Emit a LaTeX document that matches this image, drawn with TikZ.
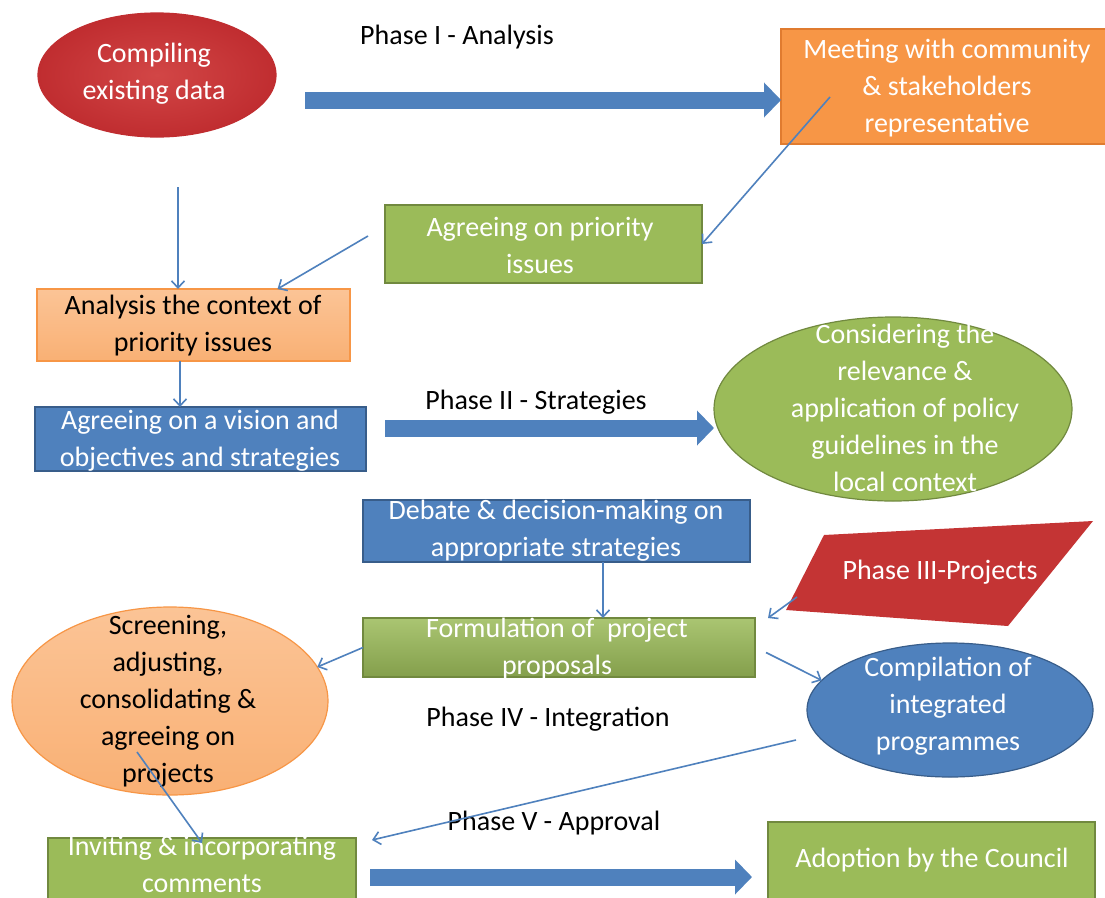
\documentclass[tikz,border=0pt]{standalone}
\usepackage{fontspec}
\setmainfont{Carlito}
\usetikzlibrary{shapes.geometric,arrows.meta,calc}
\definecolor{cblue}{RGB}{79,129,189}
\definecolor{cblueb}{RGB}{56,93,138}
\definecolor{cgreen}{RGB}{155,187,89}
\definecolor{cgreenb}{RGB}{113,137,63}
\definecolor{corange}{RGB}{247,150,70}
\definecolor{corangeb}{RGB}{224,123,47}
\definecolor{clorange}{RGB}{251,196,150}
\definecolor{clorange2}{RGB}{249,176,116}
\definecolor{cdred}{RGB}{192,45,48}
\definecolor{cdredin}{RGB}{210,70,70}
\definecolor{cred}{RGB}{196,52,52}
\begin{document}
\begin{tikzpicture}[x={(1pt,0pt)}, y={(0pt,-1pt)},
  every node/.style={inner sep=0pt, outer sep=0pt},
  shp/.style={draw, line width=1.2pt, inner sep=0pt},
  rbox/.style={shp, rectangle},
  ell/.style={shp, ellipse},
  txt/.style={align=center, font=\fontsize{28}{37}\selectfont},
  wtxt/.style={txt, text=white},
  btxt/.style={txt, text=black},
  thinarr/.style={draw=cblue, line width=1.6pt, -{Straight Barb[length=7pt,width=13pt]}},
  bigarr/.style={draw=cblue, line width=17pt, -{Triangle[length=17pt,width=34pt]}},
]
\useasboundingbox (0,0) rectangle (1105,897);
\fill[white] (0,0) rectangle (1105,897);

% Phase I
\node[ell, draw=cdred, inner color=cdredin, outer color=cdred, minimum width=238, minimum height=124] (comp) at (157,75) {};
\node[wtxt] (tcomp) at (154,74) {Compiling\\existing data};
\node[btxt] (ph1) at (457,37) {Phase I - Analysis};
\node[rbox, draw=corangeb, fill=corange, minimum width=334, minimum height=115] (meet) at (948,86.5) {};
\node[wtxt] (tmeet) at (947,88) {Meeting with community\\\& stakeholders\\representative};
\node[rbox, draw=cgreenb, fill=cgreen, minimum width=317, minimum height=78] (prio) at (543.5,244) {};
\node[wtxt] (tprio) at (540,245.5) {Agreeing on priority\\issues};
\node[rbox, draw=corange, top color=clorange, bottom color=clorange2, minimum width=313, minimum height=72] (an) at (193.5,325) {};
\node[btxt] (tan) at (193,325.5) {Analysis the context of\\priority issues};

% Phase II
\node[rbox, draw=cblueb, fill=cblue, minimum width=331, minimum height=64] (vis) at (200.5,439) {};
\node[wtxt] (tvis) at (200,440.5) {Agreeing on a vision and\\objectives and strategies};
\node[btxt] (ph2) at (536,402) {Phase II - Strategies};
\node[ell, draw=cgreenb, fill=cgreen, minimum width=358, minimum height=184] (cons) at (893,409) {};
\node[wtxt] (tcons) at (905,408) {Considering the\\relevance \&\\application of policy\\guidelines in the\\local context};
\node[rbox, draw=cblueb, fill=cblue, minimum width=387, minimum height=62] (deb) at (556.5,531) {};
\node[wtxt] (tdeb) at (556,531) {Debate \& decision-making on\\appropriate strategies};

% Phase III
\fill[cred] (824,535) coordinate (p1) -- (1093,521) coordinate (p2) -- (1008,626) coordinate (p3) -- (786,610) coordinate (p4) -- cycle;
\node[wtxt] (ph3) at (940,572) {Phase III-Projects};
\node[rbox, draw=cgreenb, top color=cgreen!85!white, bottom color=cgreen!85!black, minimum width=392, minimum height=59] (form) at (559,647.5) {};
\node[wtxt] (tform) at (557,648.5) {Formulation of\ \ project\\proposals};

% Phase IV
\node[ell, draw=corange, top color=clorange, bottom color=clorange2, minimum width=316, minimum height=188] (scr) at (170,701) {};
\node[btxt] (tscr) at (168,701) {Screening,\\adjusting,\\consolidating \&\\agreeing on\\projects};
\node[ell, draw=cblueb, fill=cblue, minimum width=286, minimum height=134] (cmp) at (950,710) {};
\node[wtxt] (tcmp) at (948,706) {Compilation of\\integrated\\programmes};
\node[btxt] (ph4) at (548,719) {Phase IV - Integration};

% Phase V
\node[btxt] (ph5) at (554,823) {Phase V - Approval};
\node[rbox, draw=cgreenb, fill=cgreen, minimum width=308, minimum height=70] (inv) at (202,873) {};
\node[wtxt] (tinv) at (202,864) {Inviting \& incorporating\\comments};
\node[rbox, draw=cgreenb, fill=cgreen, minimum width=327, minimum height=83] (adopt) at (931.5,863.5) {};
\node[wtxt] (tadopt) at (932,860) {Adoption by the Council};

% connectors
\coordinate (a1) at (305,100);
\draw[bigarr] (a1) -- (a1 -| meet.west);
\coordinate (b1) at (830,97);
\draw[thinarr] (b1) -- (prio.east);
\coordinate (c1) at (178,187);
\draw[thinarr] (c1) -- (c1 |- an.north);
\coordinate (d1) at (368,236);
\draw[thinarr] (d1) -- ([xshift=84pt]an.north);
\draw[thinarr] ([xshift=-13.5pt]an.south) -- ([xshift=-20.5pt]vis.north);
\coordinate (f1) at (385,428);
\draw[bigarr] (f1) -- (f1 -| cons.west);
\draw[thinarr] ([xshift=46.5pt]deb.south) -- ([xshift=44pt]form.north);
\coordinate (h1) at (797,597);
\draw[thinarr] (h1) -- ([xshift=13pt]form.north east);
\draw[thinarr] (form.west) -- (scr.13);
\draw[thinarr] ([xshift=11pt,yshift=-5pt]form.east) -- (cmp.167);
\draw[thinarr] ([xshift=-11pt,yshift=-30pt]cmp.west) -- ([xshift=16pt,yshift=-2pt]inv.north east);
\coordinate (l1) at (137,752);
\draw[thinarr] (l1) -- ([yshift=-5pt]inv.north);
\coordinate (m1) at (370,877);
\draw[bigarr, shorten >=16pt] (m1) -- (m1 -| adopt.west);
\end{tikzpicture}
\end{document}
